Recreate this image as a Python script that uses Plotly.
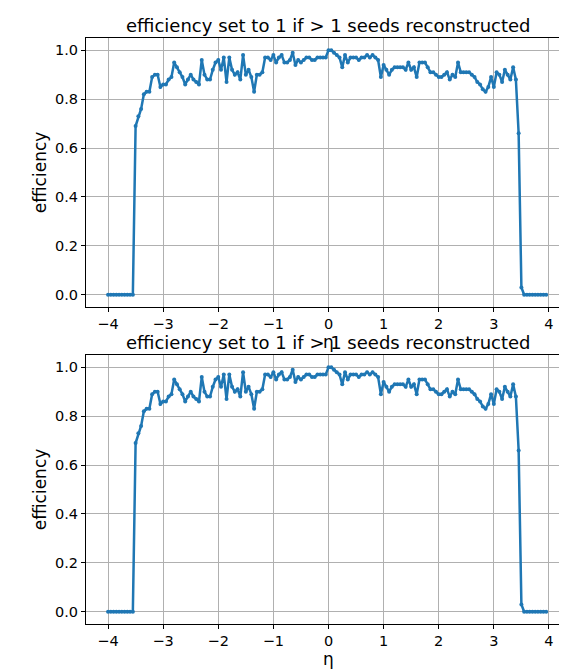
import plotly.graph_objects as go
from plotly.subplots import make_subplots

eta = [round(-4 + 0.05 * i, 2) for i in range(161)]
eff = (
    [0.0] * 10 +
    [0.69, 0.73, 0.76, 0.82, 0.83, 0.83, 0.89, 0.90, 0.90, 0.85,
     0.86, 0.86, 0.88, 0.89, 0.95, 0.93, 0.91, 0.89, 0.86, 0.88,
     0.90, 0.88, 0.87, 0.86, 0.96, 0.90, 0.88, 0.88, 0.92, 0.95,
     0.96, 0.92, 0.97, 0.87, 0.97, 0.92, 0.90, 0.91, 0.88, 0.98,
     0.90, 0.92, 0.89, 0.83, 0.90, 0.90, 0.91, 0.97, 0.97, 0.96,
     0.98, 0.95, 0.97, 0.98, 0.95, 0.95, 0.96, 0.99, 0.94, 0.96,
     0.95, 0.96, 0.97, 0.97, 0.96, 0.96, 0.97, 0.97, 0.97, 0.97,
     1.00, 1.00, 0.99, 0.98, 0.97, 0.93, 0.98, 0.95, 0.97, 0.97,
     0.97, 0.96, 0.97, 0.97, 0.98, 0.97, 0.98, 0.97, 0.96, 0.89,
     0.94, 0.92, 0.90, 0.92, 0.93, 0.93, 0.93, 0.93, 0.92, 0.95,
     0.92, 0.93, 0.89, 0.95, 0.95, 0.95, 0.93, 0.91, 0.91, 0.90,
     0.89, 0.89, 0.90, 0.91, 0.88, 0.90, 0.89, 0.95, 0.91, 0.91,
     0.91, 0.91, 0.90, 0.89, 0.87, 0.86, 0.84, 0.83, 0.85, 0.89, 0.85,
     0.91, 0.90, 0.87, 0.92, 0.90, 0.88, 0.93, 0.88, 0.66, 0.03,
     0.0] +
    [0.0] * 8
)
eta = eta[:len(eff)]

blue = "#1f77b4"
title = "efficiency set to 1 if > 1 seeds reconstructed"
fig = make_subplots(rows=2, cols=1, vertical_spacing=0.082)
for r in (1, 2):
    fig.add_trace(go.Scatter(x=eta, y=eff, mode="lines+markers",
                             line=dict(color=blue, width=2.5),
                             marker=dict(color=blue, size=4),
                             showlegend=False), row=r, col=1)
    fig.update_xaxes(range=[-4.4, 4.4], tickvals=[-4, -3, -2, -1, 0, 1, 2, 3, 4],
                     ticktext=["\u22124", "\u22123", "\u22122", "\u22121", "0", "1", "2", "3", "4"],
                     showgrid=True, gridcolor="#b0b0b0", zeroline=False,
                     showline=True, linecolor="black", mirror=True,
                     ticks="outside", ticklen=4, tickcolor="black",
                     title=dict(text="\u03b7", standoff=0), row=r, col=1)
    fig.update_yaxes(range=[-0.05, 1.05], tickvals=[0, 0.2, 0.4, 0.6, 0.8, 1.0],
                     ticktext=["0.0", "0.2", "0.4", "0.6", "0.8", "1.0"],
                     showgrid=True, gridcolor="#b0b0b0", zeroline=False,
                     showline=True, linecolor="black", mirror=True,
                     ticks="outside", ticklen=4, tickcolor="black",
                     title=dict(text="efficiency", standoff=4), row=r, col=1)

fig.add_annotation(text=title, x=0.5, y=1.0, xref="paper", yref="paper",
                   yanchor="bottom", showarrow=False, font=dict(size=18))
fig.add_annotation(text=title, x=0.5, y=0.459, xref="paper", yref="paper",
                   yanchor="bottom", showarrow=False, font=dict(size=18))

fig.update_layout(width=567, height=672, plot_bgcolor="white", paper_bgcolor="white",
                  margin=dict(l=78, r=4, t=30, b=56),
                  font=dict(family="DejaVu Sans", size=14.5, color="black"))
fig.write_html("out.html")
